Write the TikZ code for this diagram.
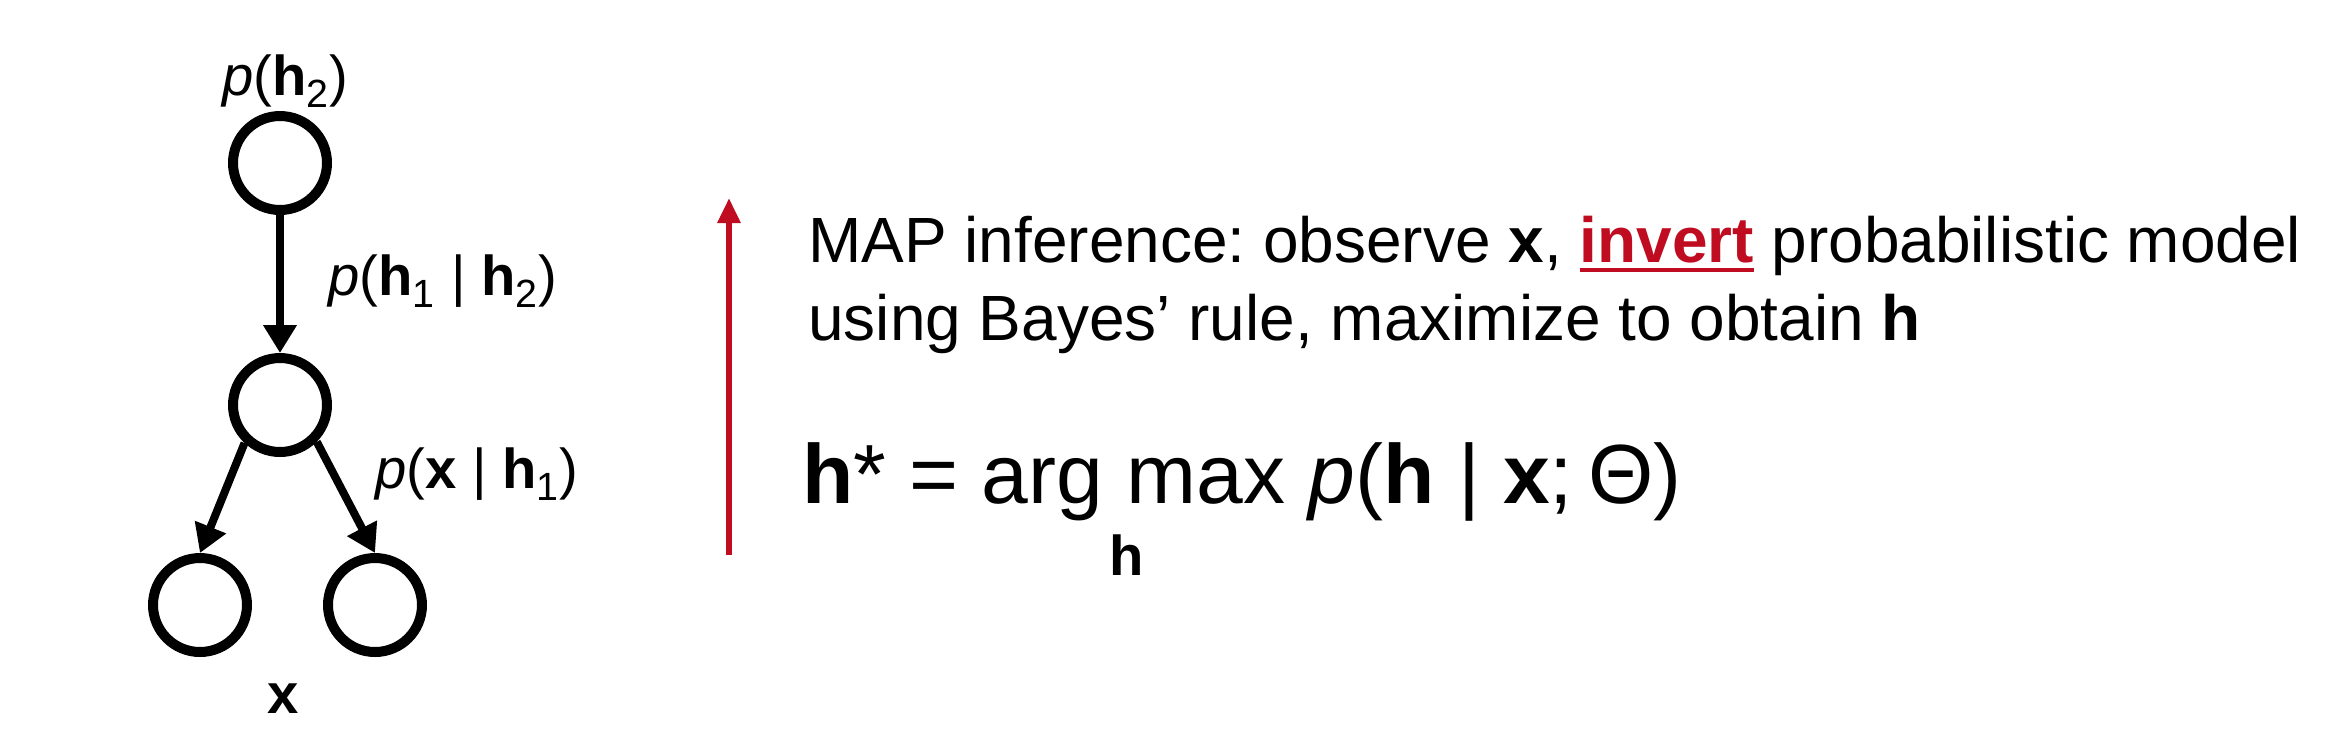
\documentclass[tikz,border=0pt]{standalone}
\usepackage{fontspec}
\setmainfont{Liberation Sans}
\usetikzlibrary{arrows.meta,positioning}
\definecolor{mapred}{RGB}{192,12,32}
\newsavebox{\ulbox}
\newcommand{\redul}[1]{\sbox{\ulbox}{#1}\rlap{\rule[-0.16em]{\wd\ulbox}{0.065em}}\usebox{\ulbox}}
\frenchspacing

\begin{document}
\begin{tikzpicture}[x=0.02cm, y=-0.02cm]
\tikzstyle{var}=[draw, circle, line width=0.2cm, minimum size=1.88cm, inner sep=0pt]
\tikzstyle{lbl}=[font=\fontsize{32}{38}\selectfont, inner sep=0pt]
\tikzstyle{dep}=[-{Triangle[length=0.56cm,width=0.64cm]}, line width=0.16cm]
\tikzstyle{txt}=[font=\fontsize{36.4}{44}\selectfont, inner sep=0pt]
\tikzstyle{eq}=[font=\fontsize{47.8}{41}\selectfont, inner sep=0pt]
\useasboundingbox (0,0) rectangle (2348,752);
% graphical model
\node[var] (hTwo) at (280,163) {};
\node[var] (hOne) at (280,405) {};
\node[var] (xLeft) at (200,605) {};
\node[var] (xRight) at (375,605) {};
\draw[dep] (hTwo.south) -- (hOne.north);
\draw[dep] (hOne.227) -- (xLeft.north);
\draw[dep] (hOne.315) -- (xRight.north);
\node[lbl, anchor=base] (pTwo) at (285,95) {\textit{p}(\textbf{h}\textsubscript{2})};
\node[lbl, anchor=base west] (pOne) at (328,295) {\textit{p}(\textbf{h}\textsubscript{1} | \textbf{h}\textsubscript{2})};
\node[lbl, anchor=base west] (pX) at (375,488) {\textit{p}(\textbf{x} | \textbf{h}\textsubscript{1})};
\node[lbl, anchor=base] (xName) at (283,713) {\textbf{x}};
% inference
\coordinate (infBot) at (729,555);
\coordinate (infTop) at (729,198);
\draw[-{Triangle[length=0.5cm,width=0.44cm]}, line width=0.12cm, mapred] (infBot) -- (infTop);
\node[txt, anchor=base west] (lineA) at (808,262) {MAP inference: observe \textbf{x}, \textcolor{mapred}{\redul{\textbf{invert}}} probabilistic model};
\node[txt, anchor=base west] (lineB) at (808,340) {using Bayes’ rule, maximize to obtain \textbf{h}};
\node[eq, anchor=base west] (mapEq) at (802,503) {\textbf{h}* = arg \begin{tabular}[t]{@{}l@{}}max\\\makebox[0pt]{\fontsize{32}{38}\selectfont\textbf{h}}\end{tabular} \textit{p}(\textbf{h} | \textbf{x};\hspace{0.18em}Θ)};
\end{tikzpicture}
\end{document}
